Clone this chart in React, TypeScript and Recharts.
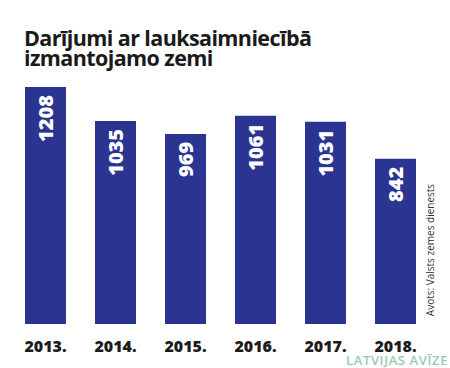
import React from 'react';
import { BarChart, Bar, XAxis, YAxis, LabelList } from 'recharts';

const years = ['2013.', '2014.', '2015.', '2016.', '2017.', '2018.'];
const deals = [1208, 1035, 969, 1061, 1031, 842];
const titleLines = ['Darījumi ar lauksaimniecībā', 'izmantojamo zemi'];
const sourceText = 'Avots: Valsts zemes dienests';
const brandText = 'LATVIJAS AVĪZE';

const data = years.map((y, i) => ({ year: y, value: deals[i] }));

const FONT = '"Open Sans", "Noto Sans", sans-serif';
const BAR = '#2b3591';

const YearTick = (props: any) => {
  const { x, y, payload } = props;
  return (
    <text x={x} y={y + 26} textAnchor="middle" fontFamily={FONT} fontWeight={800} fontSize={16} fill="#1c1c1c">
      {payload.value}
    </text>
  );
};

const ValueLabel = (props: any) => {
  const { x, y, width, value } = props;
  const cx = x + width / 2;
  const ty = y + 8;
  return (
    <text
      x={cx}
      y={ty}
      transform={`rotate(-90, ${cx}, ${ty})`}
      textAnchor="end"
      dominantBaseline="central"
      fontFamily={FONT}
      fontWeight={800}
      fontSize={20}
      fill="#ffffff"
    >
      {value}
    </text>
  );
};

export default function App() {
  return (
    <div style={{ position: 'absolute', left: 0, top: 0, width: 450, height: 368, background: '#fff', overflow: 'hidden' }}>
      <svg style={{ position: 'absolute', left: 0, top: 0 }} width={450} height={80}>
        {titleLines.map((l, i) => (
          <text key={l} x={24} y={46 + i * 20} fontFamily={FONT} fontWeight={700} fontSize={21.5} fill="#1a1a1a" letterSpacing={-0.6}>
            {l}
          </text>
        ))}
      </svg>
      <BarChart
        width={450}
        height={368}
        data={data}
        margin={{ top: 87, right: 19.5, bottom: 14, left: 10.5 }}
        barCategoryGap={14.5}
      >
        <YAxis hide domain={[0, 'dataMax']} />
        <XAxis dataKey="year" axisLine={false} tickLine={false} tickSize={0} height={30} tick={<YearTick />} interval={0} />
        <Bar dataKey="value" fill={BAR} isAnimationActive={false}>
          <LabelList dataKey="value" content={<ValueLabel />} />
        </Bar>
      </BarChart>
      <svg style={{ position: 'absolute', left: 0, top: 0, pointerEvents: 'none' }} width={450} height={368}>
        <text
          x={430}
          y={250}
          transform="rotate(-90, 430, 250)"
          textAnchor="middle"
          dominantBaseline="central"
          fontFamily={FONT}
          fontSize={10}
          fill="#333"
        >
          {sourceText}
        </text>
        <text x={448} y={365} textAnchor="end" fontFamily={FONT} fontWeight={600} fontSize={13} fill="#9fc8b4" letterSpacing={0.6}>
          {brandText}
        </text>
      </svg>
    </div>
  );
}
